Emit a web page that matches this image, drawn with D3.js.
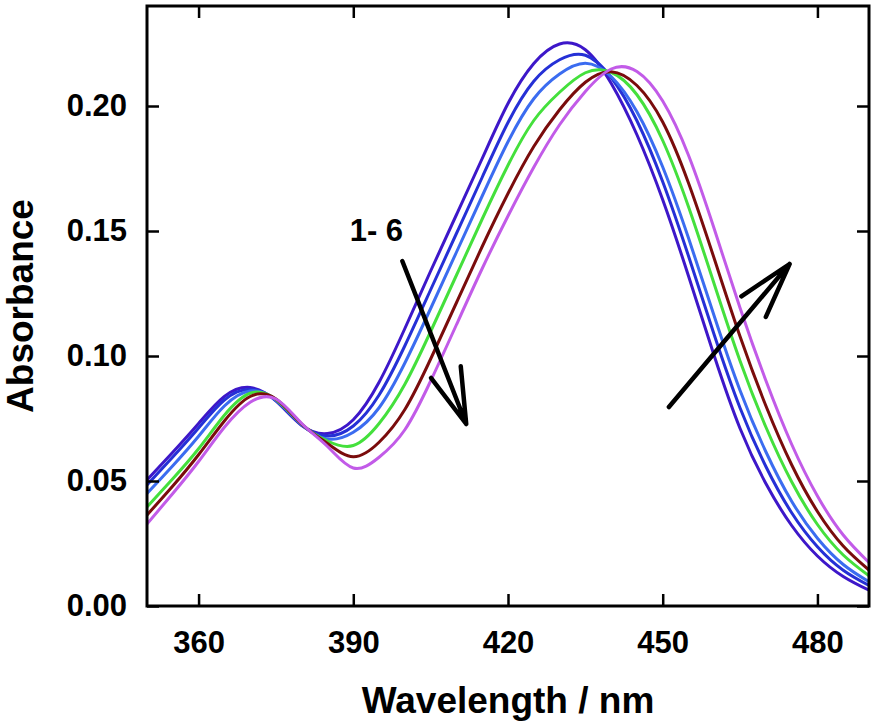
<!DOCTYPE html>
<html>
<head>
<meta charset="utf-8">
<script src="https://cdn.jsdelivr.net/npm/d3@7"></script>
<style>
  body { margin: 0; background: #fff; }
  text { font-family: "Liberation Sans", Arial, sans-serif; font-weight: bold; }
</style>
</head>
<body>
<svg id="plot" width="876" height="726"></svg>
<script>
// wavelength grid (nm) and absorbance of the six spectra
var wavelength = [350,355,360,365,370,375,380,385,390,395,400,405,410,415,420,
                  425,430,435,440,445,450,455,460,465,470,475,480,485,490];

var spectrum1 = [.0504,.0615,.0730,.0838,.0874,.0820,.0722,.0690,.0745,.0895,.1110,.1340,.1565,.1790,.2010,
                 .2170,.2248,.2225,.2091,.1885,.1625,.1320,.1000,.0710,.0490,.0322,.0200,.0118,.0063];
var spectrum2 = [.0484,.0596,.0712,.0824,.0867,.0822,.0724,.0680,.0720,.0844,.1041,.1265,.1490,.1715,.1934,
                 .2099,.2185,.2203,.2114,.1941,.1697,.1400,.1084,.0792,.0558,.0373,.0237,.0143,.0082];
var spectrum3 = [.0450,.0561,.0679,.0800,.0860,.0824,.0725,.0668,.0695,.0793,.0972,.1190,.1415,.1640,.1857,
                 .2029,.2128,.2171,.2118,.1977,.1756,.1472,.1159,.0862,.0617,.0419,.0271,.0166,.0097];
var spectrum4 = [.0396,.0509,.0629,.0763,.0851,.0826,.0727,.0660,.0642,.0730,.0887,.1098,.1323,.1548,.1763,
                 .1942,.2055,.2133,.2135,.2045,.1862,.1597,.1287,.0980,.0716,.0497,.0326,.0204,.0121];
var spectrum5 = [.0364,.0480,.0605,.0740,.0838,.0828,.0728,.0650,.0597,.0655,.0786,.0988,.1213,.1438,.1650,
                 .1838,.1985,.2095,.2137,.2082,.1936,.1692,.1389,.1078,.0801,.0565,.0378,.0240,.0144];
var spectrum6 = [.0328,.0450,.0578,.0715,.0815,.0828,.0730,.0638,.0552,.0595,.0705,.0900,.1125,.1350,.1560,
                 .1755,.1925,.2058,.2148,.2138,.2020,.1803,.1508,.1192,.0902,.0647,.0440,.0284,.0174];

var xTicks = [360, 390, 420, 450, 480];
var yTicks = [0, 0.05, 0.10, 0.15, 0.20];

// annotation arrows (data units) and label
var arrowFrom = [[399.5, 0.138], [451.2, 0.0796]];
var arrowTo   = [[411.9, 0.0728], [474.6, 0.1368]];
var labelText = '1- 6', labelAt = [389.3, 0.146];

var spectra = [spectrum1, spectrum2, spectrum3, spectrum4, spectrum5, spectrum6];
var lineColors = ['#3d17c9', '#2530d6', '#3b6cf0', '#44e03c', '#7a0c0c', '#c25be8'];

//Set SVG proportions
var svg = d3.select('#plot'),
    margin = {top: 6, right: 7, bottom: 120, left: 147},
    width = +svg.attr('width') - margin.left - margin.right,
    height = +svg.attr('height') - margin.top - margin.bottom;
var g = svg.append('g')
    .attr('transform', 'translate(' + margin.left + ',' + margin.top + ')');

var x = d3.scaleLinear().domain([350, 490]).range([0, width]),
    y = d3.scaleLinear().domain([0, 0.24]).range([height, 0]);

g.append('clipPath').attr('id', 'clip')
  .append('rect').attr('width', width).attr('height', height);

// spectra
var line = d3.line()
    .x(function(d, i) { return x(wavelength[i]); })
    .y(function(d) { return y(d); })
    .curve(d3.curveNatural);

g.append('g').attr('clip-path', 'url(#clip)')
  .selectAll('path')
  .data(spectra)
  .enter()
  .append('path')
  .attr('d', line)
  .style('fill', 'none')
  .style('stroke', function(d, i) { return lineColors[i]; })
  .style('stroke-width', 3);

// axes, ticks pointing inward on all four sides
function styleAxis(sel) {
  sel.select('.domain').remove();
  sel.selectAll('.tick line').style('stroke', '#000').style('stroke-width', 2.5);
  sel.selectAll('.tick text')
    .style('font-size', '31px')
    .style('font-family', '"Liberation Sans", Arial, sans-serif')
    .style('font-weight', 'bold')
    .style('fill', '#000');
}

g.append('g')
  .attr('transform', 'translate(0,' + height + ')')
  .call(d3.axisBottom(x).tickValues(xTicks).tickSize(-12).tickPadding(25).tickFormat(d3.format('d')))
  .call(styleAxis);

g.append('g')
  .call(d3.axisLeft(y).tickValues(yTicks).tickSize(-12).tickPadding(20).tickFormat(d3.format('.2f')))
  .call(styleAxis);

g.append('g')
  .call(d3.axisTop(x).tickValues(xTicks).tickSize(-12).tickFormat(''))
  .call(styleAxis);

g.append('g')
  .attr('transform', 'translate(' + width + ',0)')
  .call(d3.axisRight(y).tickValues(yTicks).tickSize(-12).tickFormat(''))
  .call(styleAxis);

// frame
g.append('rect')
  .attr('width', width)
  .attr('height', height)
  .style('fill', 'none')
  .style('stroke', '#000')
  .style('stroke-width', 3);

// axis titles
g.append('text')
  .attr('x', width / 2)
  .attr('y', height + 107)
  .attr('text-anchor', 'middle')
  .style('font-size', '37px')
  .text('Wavelength / nm');

g.append('text')
  .attr('transform', 'rotate(-90)')
  .attr('x', -height / 2)
  .attr('y', -114)
  .attr('text-anchor', 'middle')
  .style('font-size', '37px')
  .text('Absorbance');

// arrows with open heads
var headLen = 58, headAng = 16 * Math.PI / 180;
arrowFrom.forEach(function(p, i) {
  var x1 = x(p[0]), y1 = y(p[1]), x2 = x(arrowTo[i][0]), y2 = y(arrowTo[i][1]);
  var a = Math.atan2(y1 - y2, x1 - x2);
  var path = d3.path();
  path.moveTo(x1, y1); path.lineTo(x2, y2);
  path.moveTo(x2 + headLen * Math.cos(a - headAng), y2 + headLen * Math.sin(a - headAng));
  path.lineTo(x2, y2);
  path.lineTo(x2 + headLen * Math.cos(a + headAng), y2 + headLen * Math.sin(a + headAng));
  g.append('path')
    .attr('d', path.toString())
    .style('fill', 'none')
    .style('stroke', '#000')
    .style('stroke-width', 4.5)
    .style('stroke-linecap', 'round')
    .style('stroke-linejoin', 'round');
});

g.append('text')
  .attr('x', x(labelAt[0]))
  .attr('y', y(labelAt[1]))
  .style('font-size', '31px')
  .text(labelText);
</script>
</body>
</html>
